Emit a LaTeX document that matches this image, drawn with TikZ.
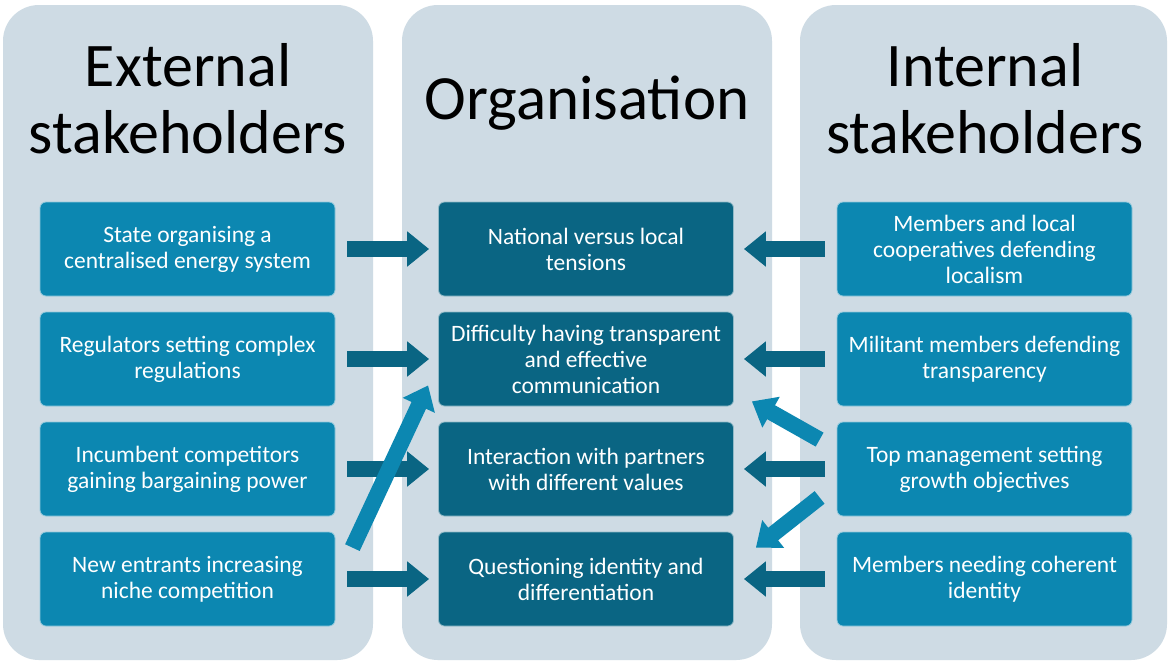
\documentclass[tikz,border=0pt]{standalone}
\usepackage{fontspec}
\setmainfont{Carlito}
\usetikzlibrary{arrows.meta,calc}
\definecolor{panelc}{HTML}{CEDBE4}
\definecolor{lightc}{HTML}{0C87B1}
\definecolor{darkc}{HTML}{0A6583}
\tikzset{
  panel/.style={fill=panelc, draw=none, rounded corners=36pt},
  title/.style={font=\fontsize{62}{67}\selectfont, align=center, text=black, inner sep=0pt},
  sbox/.style={rounded corners=6pt, minimum width=295pt, minimum height=94pt, align=center,
    text=white, font=\fontsize{23.5}{26}\selectfont, inner sep=2pt, draw=white!55!lightc, line width=0.8pt},
  extbox/.style={sbox, fill=lightc},
  orgbox/.style={sbox, fill=darkc, draw=white!55!darkc},
  fatarrow/.style={draw=darkc, line width=16pt, -{Triangle[width=34pt,length=22pt]}},
  diagarrow/.style={draw=lightc, line width=16pt, -{Triangle[width=34pt,length=22pt]}}
}
\begin{document}
\begin{tikzpicture}[x=1pt,y=-1pt]
\useasboundingbox (0,0) rectangle (1169,662);
\fill[white] (0,0) rectangle (1169,662);
% panels
\path[panel] (3,5) rectangle (373,660);
\path[panel] (402,5) rectangle (772,660);
\path[panel] (800,5) rectangle (1167,660);
% titles
\node[title] (tL) at (188,99) {External\\stakeholders};
\node[title, font=\fontsize{63}{67}\selectfont] (tM) at (587,103) {Organisation};
\node[title] (tR) at (985,99) {Internal\\stakeholders};
% left boxes
\node[extbox] (l1) at (187.5,249) {State organising a\\centralised energy system};
\node[extbox] (l2) at (187.5,359) {Regulators setting complex\\regulations};
\node[extbox] (l3) at (187.5,469) {Incumbent competitors\\gaining bargaining power};
\node[extbox] (l4) at (187.5,579) {New entrants increasing\\niche competition};
% middle boxes
\node[orgbox] (m1) at (586,249) {National versus local\\tensions};
\node[orgbox] (m2) at (586,359) {Difficulty having transparent\\and effective\\communication};
\node[orgbox] (m3) at (586,469) {Interaction with partners\\with different values};
\node[orgbox] (m4) at (586,579) {Questioning identity and\\differentiation};
% right boxes
\node[extbox] (r1) at (984.5,249) {Members and local\\cooperatives defending\\localism};
\node[extbox] (r2) at (984.5,359) {Militant members defending\\transparency};
\node[extbox] (r3) at (984.5,469) {Top management setting\\growth objectives};
\node[extbox] (r4) at (984.5,579) {Members needing coherent\\identity};
% horizontal arrows
\foreach \i in {1,...,4}{
  \draw[fatarrow, shorten <=12pt, shorten >=9pt] (l\i.east) -- (m\i.west);
  \draw[fatarrow, shorten <=12pt, shorten >=10pt] (r\i.west) -- (m\i.east);
}
% diagonal arrows
\draw[diagarrow] ($(l4.north east)+(17,16)$) -- ($(m2.south west)+(-10,-21)$);
\draw[diagarrow] ($(r3.north west)+(-17,18)$) -- ($(m2.south east)+(18,-5)$);
\draw[diagarrow] ($(r3.south west)+(-17,-19)$) -- ($(m4.north east)+(22,16)$);
\end{tikzpicture}
\end{document}
